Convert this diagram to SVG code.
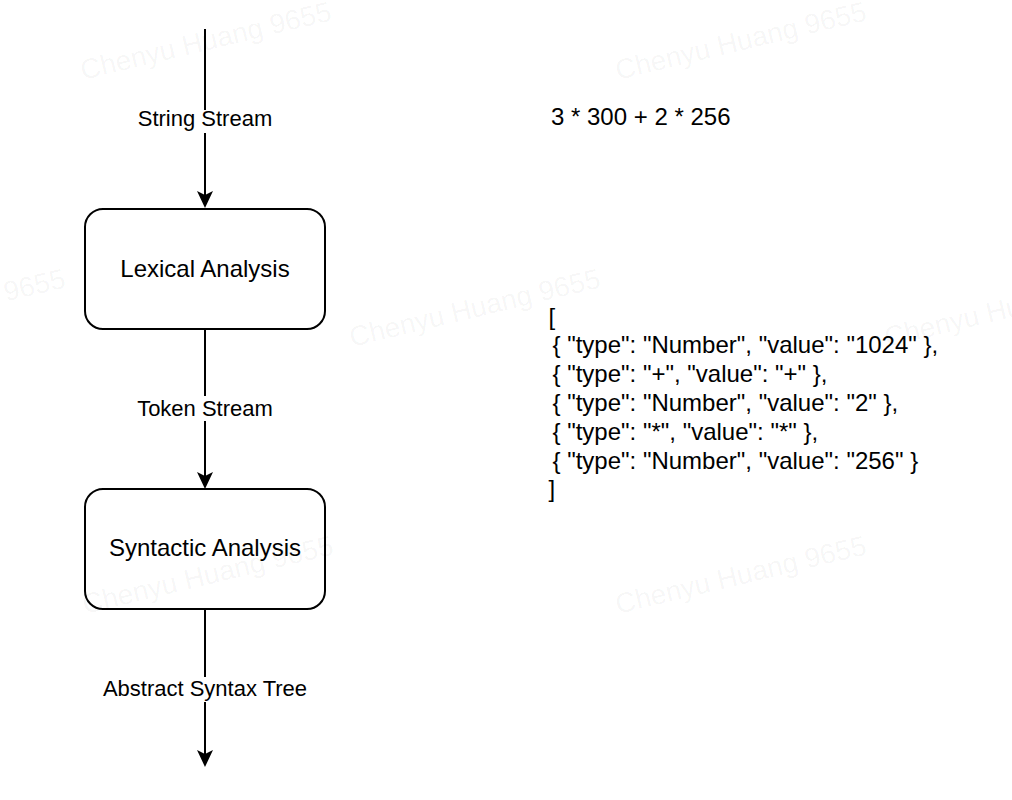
<svg xmlns="http://www.w3.org/2000/svg" width="1012" height="800" viewBox="0 0 1012 800">
  <style>
    text { font-family: "Liberation Sans", Arial, Helvetica, sans-serif; fill: #000000; }
    .box { fill: none; stroke: #000000; stroke-width: 2; }
    .boxlabel { font-size: 24px; text-anchor: middle; }
    .edge { fill: none; stroke: #000000; stroke-width: 2; }
    .edgelabel { font-size: 22px; text-anchor: middle; }
    .labelbg { fill: #ffffff; stroke: none; }
    .code { font-size: 24px; }
    .wm { font-size: 28px; fill: #000000; fill-opacity: 0.045; }
  </style>
  <defs>
    <marker id="arrow" viewBox="0 0 18 18" refX="5" refY="9" markerWidth="18" markerHeight="18" markerUnits="userSpaceOnUse" orient="auto">
      <path d="M1,1 L18,9 L1,17 L5,9 Z" fill="#000000" stroke="none"/>
    </marker>
  </defs>
  <rect x="0" y="0" width="1012" height="800" fill="#ffffff"/>

  <g id="connectors">
    <g id="edge-string-stream">
      <line class="edge" x1="205" y1="29" x2="205" y2="195" marker-end="url(#arrow)"/>
      <rect class="labelbg" x="136" y="110" width="138" height="23"/>
      <text class="edgelabel" x="205" y="126">String Stream</text>
    </g>
    <g id="edge-token-stream">
      <line class="edge" x1="205" y1="329" x2="205" y2="476" marker-end="url(#arrow)"/>
      <rect class="labelbg" x="134" y="396" width="142" height="25"/>
      <text class="edgelabel" x="205" y="416">Token Stream</text>
    </g>
    <g id="edge-ast">
      <line class="edge" x1="205" y1="609" x2="205" y2="754" marker-end="url(#arrow)"/>
      <rect class="labelbg" x="100" y="677" width="210" height="25"/>
      <text class="edgelabel" x="205" y="696">Abstract Syntax Tree</text>
    </g>
  </g>

  <g id="node-lexical">
    <rect class="box" x="85" y="209" width="240" height="120" rx="18" ry="18"/>
    <text class="boxlabel" x="205" y="277">Lexical Analysis</text>
  </g>

  <g id="node-syntactic">
    <rect class="box" x="85" y="489" width="240" height="120" rx="18" ry="18"/>
    <text class="boxlabel" x="205" y="556">Syntactic Analysis</text>
  </g>

  <g id="node-expression">
    <text class="code" x="551" y="124.5">3 * 300 + 2 * 256</text>
  </g>

  <g id="node-tokens">
    <text class="code" x="548.5" y="324.5">[</text>
    <text class="code" x="552.5" y="353.3">{ "type": "Number", "value": "1024" },</text>
    <text class="code" x="552.5" y="382.1">{ "type": "+", "value": "+" },</text>
    <text class="code" x="552.5" y="410.9">{ "type": "Number", "value": "2" },</text>
    <text class="code" x="552.5" y="439.7">{ "type": "*", "value": "*" },</text>
    <text class="code" x="552.5" y="468.5">{ "type": "Number", "value": "256" }</text>
    <text class="code" x="548.5" y="497.3">]</text>
  </g>

  <g id="watermark">
    <text class="wm" x="83" y="80" transform="rotate(-13.5 83 80)">Chenyu Huang 9655</text>
    <text class="wm" x="618" y="80" transform="rotate(-13.5 618 80)">Chenyu Huang 9655</text>
    <text class="wm" x="-183" y="347" transform="rotate(-13.5 -183 347)">Chenyu Huang 9655</text>
    <text class="wm" x="352" y="347" transform="rotate(-13.5 352 347)">Chenyu Huang 9655</text>
    <text class="wm" x="887" y="347" transform="rotate(-13.5 887 347)">Chenyu Huang 9655</text>
    <text class="wm" x="85" y="614" transform="rotate(-13.5 85 614)">Chenyu Huang 9655</text>
    <text class="wm" x="618" y="614" transform="rotate(-13.5 618 614)">Chenyu Huang 9655</text>
  </g>
</svg>
